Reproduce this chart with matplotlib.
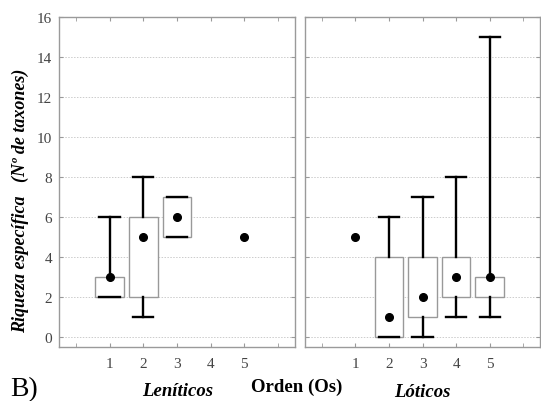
import matplotlib
matplotlib.use("Agg")
import matplotlib.pyplot as plt

plt.rcParams['font.family'] = ['Liberation Serif', 'DejaVu Serif']

orders = [1, 2, 3, 4, 5]
tick_labels = ["1", "2", "3", "4", "5"]

# Leníticos: per order -> (whislo, q1, q3, whishi); None = no data
len_whislo = [2, 1, 5, None, None]
len_q1     = [2, 2, 5, None, None]
len_q3     = [3, 6, 7, None, None]
len_whishi = [6, 8, 7, None, None]
len_dot    = [3, 5, 6, None, 5]

# Lóticos
lot_whislo = [None, 0, 0, 1, 1]
lot_q1     = [None, 0, 1, 2, 2]
lot_q3     = [None, 4, 4, 4, 3]
lot_whishi = [None, 6, 7, 8, 15]
lot_dot    = [5, 1, 2, 3, 3]

fig = plt.figure(figsize=(5.41, 4.02), dpi=100)
ax1 = fig.add_axes([0.109, 0.134, 0.436, 0.821])
ax2 = fig.add_axes([0.564, 0.134, 0.434, 0.821])

frame_col = '#9a9a9a'

def draw(ax, whislo, q1, q3, whishi, dots, show_ylabels):
    stats, pos = [], []
    for i, o in enumerate(orders):
        if q1[i] is None:
            continue
        stats.append(dict(whislo=whislo[i], q1=q1[i], med=dots[i] if dots[i] is not None else q1[i],
                          q3=q3[i], whishi=whishi[i], fliers=[]))
        pos.append(o)
    if stats:
        ax.bxp(stats, positions=pos, widths=0.85, capwidths=0.6, showfliers=False,
               patch_artist=True,
               boxprops=dict(facecolor='white', edgecolor='#999999', linewidth=1.0),
               whiskerprops=dict(color='black', linewidth=1.7),
               capprops=dict(color='black', linewidth=1.7),
               medianprops=dict(linewidth=0),
               manage_ticks=False, zorder=3)
    xs = [o for o, d in zip(orders, dots) if d is not None]
    ys = [d for d in dots if d is not None]
    ax.plot(xs, ys, 'o', color='black', markersize=5.5, zorder=5)
    ax.set_xlim(-0.5, 6.5)
    ax.set_ylim(-0.5, 16)
    ax.set_yticks(range(0, 17, 2))
    ax.set_xticks(orders)
    ax.set_xticklabels(tick_labels)
    ax.set_xticks(range(0, 7), minor=True)
    ax.yaxis.grid(True, linestyle=(0, (1.5, 1.5)), color='#cccccc', linewidth=0.7, zorder=0)
    ax.set_axisbelow(True)
    for s in ax.spines.values():
        s.set_color(frame_col)
        s.set_linewidth(1.0)
    ax.tick_params(axis='both', which='both', direction='in', length=3, color=frame_col,
                   top=True, right=True, labelsize=11, labelcolor='#444444')
    ax.tick_params(axis='x', which='major', pad=7)
    ax.tick_params(axis='y', which='major', pad=5)
    if not show_ylabels:
        ax.tick_params(axis='y', labelleft=False)

draw(ax1, len_whislo, len_q1, len_q3, len_whishi, len_dot, True)
draw(ax2, lot_whislo, lot_q1, lot_q3, lot_whishi, lot_dot, False)

fig.text(0.038, 0.50, "Riqueza específica   (Nº de taxones)", rotation=90,
         ha='center', va='center', fontsize=13, fontstyle='italic', fontweight='bold')
fig.text(0.329, 0.026, "Leníticos", ha='center', va='center', fontsize=13.5,
         fontstyle='italic', fontweight='bold')
fig.text(0.549, 0.036, "Orden (Os)", ha='center', va='center', fontsize=13.5,
         fontweight='bold')
fig.text(0.78, 0.024, "Lóticos", ha='center', va='center', fontsize=13.5,
         fontstyle='italic', fontweight='bold')
fig.text(0.018, 0.032, "B)", ha='left', va='center', fontsize=20)

fig.savefig("out.png", dpi=100)
